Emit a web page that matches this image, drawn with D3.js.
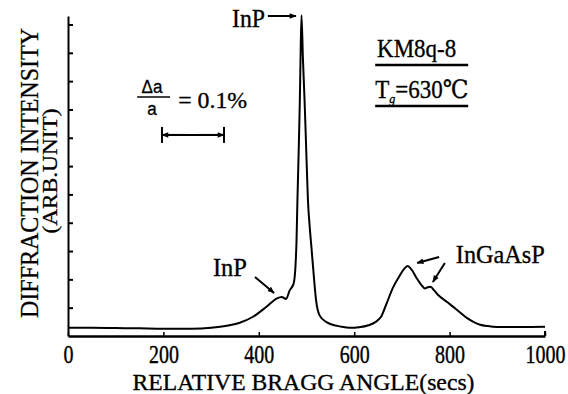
<!DOCTYPE html>
<html>
<head>
<meta charset="utf-8">
<script src="https://cdn.jsdelivr.net/npm/d3@7"></script>
<style>
  body { margin: 0; background: #fff; }
</style>
</head>
<body>
<div id="chart"></div>
<script>
// Rocking curve, relative Bragg angle (secs) vs intensity (arb. unit)
const braggAngle = [0, 50, 100, 150, 200, 260, 300, 333, 360, 388, 416, 438, 448, 457, 465, 473, 477, 479,
  481, 484, 486, 487.5, 489.5, 492.5, 496, 499, 503, 507, 511, 516, 520, 528, 542, 556, 570, 591, 610,
  630, 645, 657, 668, 681, 696, 705, 712, 720, 731, 741, 748, 754, 760, 768, 776, 794, 815, 836, 850,
  864, 880, 899, 950, 1000];
const intensity = [0.29, 0.29, 0.28, 0.27, 0.26, 0.26, 0.29, 0.36, 0.47, 0.68, 1.03, 1.33, 1.38, 1.31, 1.62, 1.85, 2.5, 3.3,
  4.8, 6.8, 8.3, 9.8, 11.33, 9.8, 8.3, 6.8, 4.8, 3.8, 3.0, 1.98, 1.27, 0.71, 0.49, 0.39, 0.34, 0.29, 0.31,
  0.38, 0.5, 0.7, 1.15, 1.7, 2.15, 2.38, 2.47, 2.35, 2.04, 1.8, 1.68, 1.72, 1.74, 1.6, 1.45, 1.21, 0.93, 0.64, 0.5,
  0.4, 0.35, 0.32, 0.32, 0.33];

const xTicks = [0, 200, 400, 600, 800, 1000];
const yTicks = [1, 2, 3, 4, 5, 6, 7, 8, 9, 10, 11];
const scaleBar = [197, 327];   // secs span equal to Δa/a = 0.1%

const serif = '"Liberation Serif", "DejaVu Serif", serif';
const sans = '"Liberation Sans", Arial, sans-serif';

const svgWidth = 568, svgHeight = 394;
const margin = {top: 16, right: 23, bottom: 58, left: 68};

const svg = d3.select("#chart").append("svg")
  .attr("width", svgWidth)
  .attr("height", svgHeight);

svg.append("defs").append("marker")
  .attr("id", "arrow")
  .attr("viewBox", "0 0 10 10")
  .attr("refX", 9).attr("refY", 5)
  .attr("markerWidth", 9).attr("markerHeight", 7)
  .attr("markerUnits", "userSpaceOnUse")
  .attr("orient", "auto")
  .append("path")
  .attr("d", "M0,1 L10,5 L0,9 Z")
  .attr("fill", "#000");

const x = d3.scaleLinear().domain([0, 1000]).range([margin.left, svgWidth - margin.right]);
const y = d3.scaleLinear().domain([0, 11.3]).range([svgHeight - margin.bottom, margin.top]);

// y axis: inner ticks, no labels
svg.append("g")
  .attr("transform", `translate(${margin.left},0)`)
  .call(d3.axisLeft(y).tickValues(yTicks).tickSize(-5).tickSizeOuter(0).tickFormat(""))
  .call(g => g.selectAll("path, line").attr("stroke", "#000").attr("stroke-width", 2));

// x axis: upward ticks
const xAxis = svg.append("g")
  .attr("transform", `translate(0,${y(0)})`)
  .call(d3.axisBottom(x).tickValues(xTicks).tickSize(-4).tickSizeOuter(0).tickFormat(d3.format("d")));
xAxis.select("path").attr("stroke", "#000").attr("stroke-width", 2.5);
xAxis.selectAll("line").attr("stroke", "#000").attr("stroke-width", 1.5);
xAxis.selectAll("text")
  .attr("y", null).attr("dy", null)
  .attr("transform", "translate(0,27) scale(1,1.3)")
  .style("font-family", serif)
  .style("font-size", "20px")
  .attr("fill", "#000")
  .attr("stroke", "#000").attr("stroke-width", 0.3);

// end cap at the right of the x axis
svg.append("path")
  .attr("d", `M${x(1000)},${y(0)} L${x(1000)},${y(0) - 5}`)
  .attr("stroke", "#000").attr("stroke-width", 2);

// curve
const data = braggAngle.map((a, i) => ({a: a, v: intensity[i]}));
svg.append("path")
  .datum(data)
  .attr("fill", "none")
  .attr("stroke", "#000")
  .attr("stroke-width", 2)
  .attr("stroke-linejoin", "round")
  .attr("d", d3.line().x(d => x(d.a)).y(d => y(d.v)).curve(d3.curveMonotoneX));

// text helper (scanned type is a little tall)
function addText(str, px, py, opts) {
  opts = opts || {};
  const t = svg.append("text")
    .attr("transform", `translate(${px},${py}) scale(1,${opts.k || 1.1})`)
    .attr("text-anchor", opts.anchor || "start")
    .style("font-family", opts.family || serif)
    .style("font-size", (opts.size || 22) + "px")
    .attr("fill", "#000")
    .attr("stroke", "#000").attr("stroke-width", 0.3)
    .text(str);
  if (opts.len) t.attr("textLength", opts.len).attr("lengthAdjust", "spacingAndGlyphs");
  return t;
}

function arrow(a0, v0, a1, v1) {
  svg.append("line")
    .attr("x1", x(a0)).attr("y1", y(v0))
    .attr("x2", x(a1)).attr("y2", y(v1))
    .attr("stroke", "#000").attr("stroke-width", 2)
    .attr("marker-end", "url(#arrow)");
}

// axis titles
addText("RELATIVE BRAGG ANGLE(secs)", x(500) - 3, 390, {size: 21, len: 342, k: 1.08, anchor: "middle"});

svg.append("text")
  .attr("transform", "translate(38,173) rotate(-90)")
  .style("font-family", serif).style("font-size", "26px")
  .attr("text-anchor", "middle")
  .attr("stroke", "#000").attr("stroke-width", 0.3)
  .attr("textLength", 290).attr("lengthAdjust", "spacingAndGlyphs")
  .text("DIFFRACTION INTENSITY");
svg.append("text")
  .attr("transform", "translate(57,171) rotate(-90)")
  .style("font-family", serif).style("font-size", "20px")
  .attr("text-anchor", "middle")
  .attr("stroke", "#000").attr("stroke-width", 0.3)
  .attr("textLength", 125).attr("lengthAdjust", "spacingAndGlyphs")
  .text("(ARB.UNIT)");

// main InP peak label
addText("InP", x(413), y(10.91), {size: 23, len: 33, anchor: "end"});
arrow(419, 11.3, 478, 11.3);

// lattice mismatch scale
addText("Δa", x(176), y(8.58), {size: 17, anchor: "middle", family: sans, k: 1.05});
svg.append("line")
  .attr("x1", x(145)).attr("x2", x(214))
  .attr("y1", y(8.44)).attr("y2", y(8.44))
  .attr("stroke", "#000").attr("stroke-width", 1.5);
addText("a", x(176), y(7.8), {size: 17, anchor: "middle", family: sans, k: 1.05});
addText("= 0.1%", x(231), y(8.05), {size: 22, len: 69, k: 1.07});

const barY = y(7.1);
svg.append("line")
  .attr("x1", x(scaleBar[0] + 4)).attr("x2", x(scaleBar[1] - 4))
  .attr("y1", barY).attr("y2", barY)
  .attr("stroke", "#000").attr("stroke-width", 2);
arrow(250, 7.1, scaleBar[0], 7.1);
arrow(270, 7.1, scaleBar[1], 7.1);
scaleBar.forEach(a => {
  svg.append("line")
    .attr("x1", x(a)).attr("x2", x(a))
    .attr("y1", barY - 8).attr("y2", barY + 8)
    .attr("stroke", "#000").attr("stroke-width", 2);
});

// sample info
addText("KM8q-8", x(648), y(9.85), {size: 23, len: 79, k: 1.1});
svg.append("line")
  .attr("x1", x(644)).attr("x2", x(839))
  .attr("y1", y(9.57)).attr("y2", y(9.57))
  .attr("stroke", "#000").attr("stroke-width", 2.5);

const tg = svg.append("text")
  .attr("transform", `translate(${x(644)},${y(8.4)}) scale(1,1.1)`)
  .style("font-family", serif).style("font-size", "23px")
  .attr("stroke", "#000").attr("stroke-width", 0.3);
tg.append("tspan").text("T");
tg.append("tspan").style("font-size", "12px").attr("font-style", "italic").attr("dy", 4).text("g");
tg.append("tspan").attr("dy", -4).text("=630℃");
svg.append("line")
  .attr("x1", x(644)).attr("x2", x(839))
  .attr("y1", y(8.12)).attr("y2", y(8.12))
  .attr("stroke", "#000").attr("stroke-width", 2.5);

// lower InP and InGaAsP labels
addText("InP", x(375), y(2.12), {size: 23, len: 34, anchor: "end"});
arrow(392, 2.08, 432, 1.52);

addText("InGaAsP", x(813), y(2.58), {size: 23, len: 89});
arrow(778, 2.79, 732, 2.58);
arrow(790, 2.58, 765, 1.91);
</script>
</body>
</html>
